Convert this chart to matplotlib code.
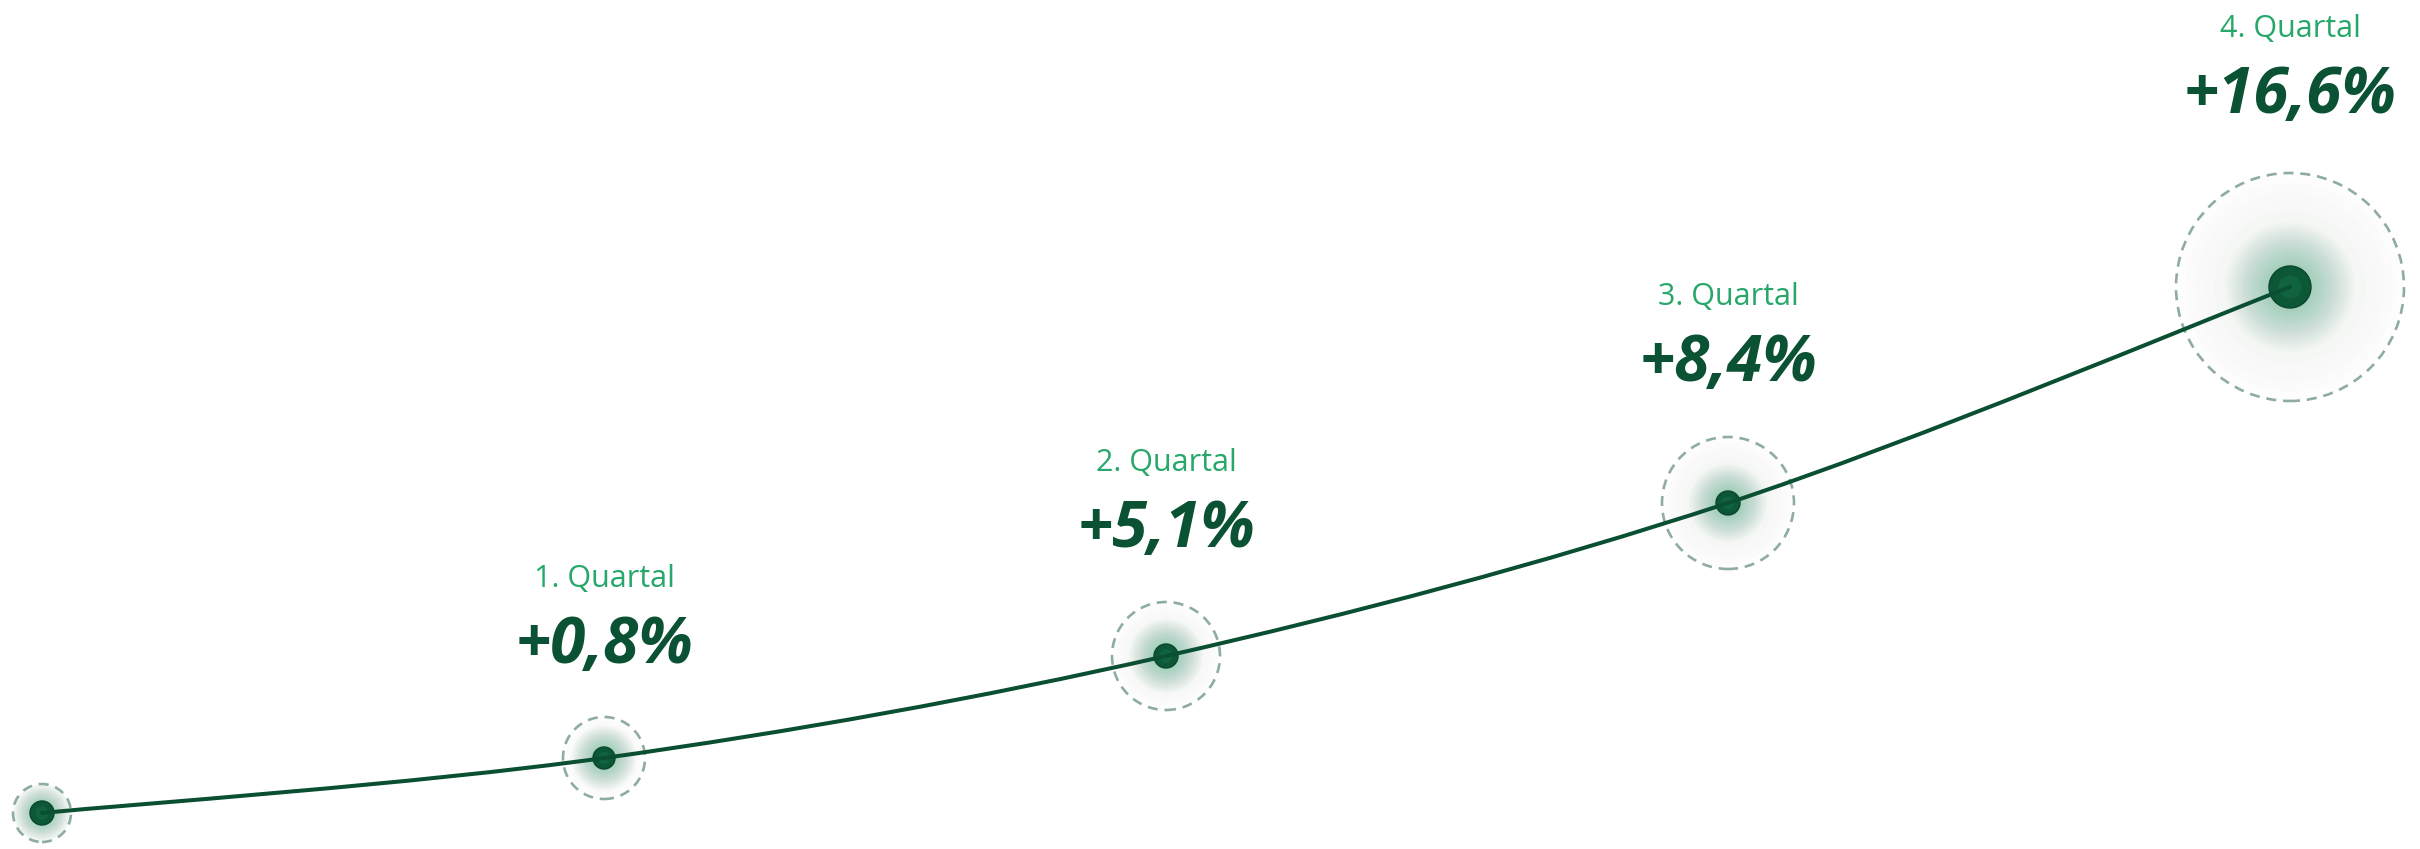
import matplotlib
matplotlib.use('Agg')
import matplotlib.pyplot as plt
import matplotlib.transforms as mtransforms
from matplotlib.patches import Circle, PathPatch
from matplotlib.path import Path
import numpy as np

# data
quarters = ['', '1. Quartal', '2. Quartal', '3. Quartal', '4. Quartal']
growth = ['', '+0,8%', '+5,1%', '+8,4%', '+16,6%']
curve_height = [0, 55, 157, 310, 526]      # decorative curve height (px above start)

# style
ring_r = [29, 41, 54, 66, 114]             # dashed ring radius, px
dot_r = [12, 11, 12, 12, 21]               # dot radius, px
glow_r = [22, 26, 30, 32, 52]
LINE = '#0a4f32'
DOT = '#0c5736'
VALUE = '#0a5233'
LABEL = '#27a76a'
RING = '#8eac9f'
FONT = ['Open Sans', 'DejaVu Sans']

DPI = 100
W, H = 2420, 849
fig = plt.figure(figsize=(W / DPI, H / DPI), dpi=DPI)
ax = fig.add_axes([0, 0, 1, 1])
ax.set_axis_off()
x0_px, step_px, y0_px = 42, 562, 813
ax.set_xlim(-x0_px / step_px, (W - x0_px) / step_px)
ax.set_ylim(-(H - y0_px), y0_px)

xs = np.arange(len(curve_height), dtype=float)
ys = np.asarray(curve_height, dtype=float)


def px_trans(x, y):
    # transform whose unit is one pixel, centred on data point (x, y)
    return (mtransforms.Affine2D().scale(1.0) +
            mtransforms.ScaledTranslation(x, y, ax.transData))


def disc(x, y, r, **kw):
    c = Circle((0, 0), r, transform=px_trans(x, y), **kw)
    ax.add_patch(c)
    return c


# smooth curve (Catmull-Rom as cubic Bezier, in display space)
pts = ax.transData.transform(np.column_stack([xs, ys]))
verts = [pts[0]]
codes = [Path.MOVETO]
for i in range(len(pts) - 1):
    p0 = pts[i - 1] if i > 0 else pts[i]
    p1, p2 = pts[i], pts[i + 1]
    p3 = pts[i + 2] if i + 2 < len(pts) else pts[i + 1]
    verts += [p1 + (p2 - p0) / 6, p2 - (p3 - p1) / 6, p2]
    codes += [Path.CURVE4] * 3
curve = PathPatch(Path(verts, codes), transform=None, fill=False,
                  edgecolor=LINE, lw=2.9, zorder=6, capstyle='round')
ax.add_artist(curve)

for i, (x, y) in enumerate(zip(xs, ys)):
    # faint grey wash inside the ring
    n = 12
    for k in range(n):
        disc(x, y, ring_r[i] * (1 - k / n), facecolor='#9aa5a0',
             edgecolor='none', alpha=0.01, zorder=1)
    # green glow
    n = 30
    for k in range(n):
        disc(x, y, glow_r[i] * (1 - k / n) + dot_r[i] * 0.6,
             facecolor='#34a06b', edgecolor='none', alpha=0.014, zorder=2)
    disc(x, y, ring_r[i], facecolor='none', edgecolor=RING, lw=1.9,
         linestyle=(0, (3.8, 2.6)), zorder=3)
    disc(x, y, dot_r[i], facecolor=DOT, edgecolor='#08472b', lw=1.0, zorder=5)
    disc(x, y, dot_r[i] * 0.55, facecolor='#1d7a50', edgecolor='none',
         alpha=0.35, zorder=5)

    if not growth[i]:
        continue
    base = 1.08 * ring_r[i] + 51
    ax.annotate(growth[i], (x, y), xytext=(0, base * 0.72),
                textcoords='offset points', ha='center', va='baseline',
                fontsize=46, fontweight='bold', fontstyle='italic',
                color=VALUE, family=FONT, zorder=7)
    ax.annotate(quarters[i], (x, y), xytext=(0, (base + 76) * 0.72),
                textcoords='offset points', ha='center', va='baseline',
                fontsize=22, color=LABEL, family=FONT, zorder=7)

fig.savefig('out.png', dpi=DPI, facecolor='white')
